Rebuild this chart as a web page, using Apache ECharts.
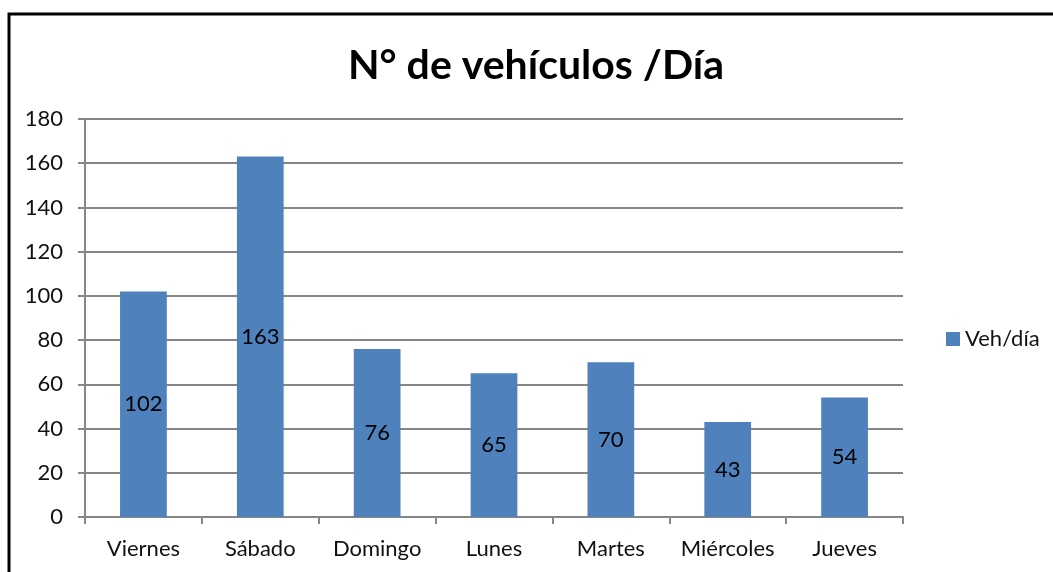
<!DOCTYPE html>
<html>
<head>
<meta charset="utf-8">
<script src="https://cdn.jsdelivr.net/npm/echarts@6/dist/echarts.min.js"></script>
<style>
  html, body { margin: 0; padding: 0; background: #fff; }
  #chart { width: 1053px; height: 572px; }
</style>
</head>
<body>
<div id="chart"></div>
<script>
// datos
var dias = ['Viernes', 'Sábado', 'Domingo', 'Lunes', 'Martes', 'Miércoles', 'Jueves'];
var vehiculos = [102, 163, 76, 65, 70, 43, 54];
var serieNombre = 'Veh/día';
var titulo = 'N° de vehículos /Día';

var chart = echarts.init(document.getElementById('chart'));
var fuente = 'Lato, "Open Sans", sans-serif';

var option = {
    backgroundColor: '#fff',
    animation: false,
    title: {
        text: titulo,
        left: 531,
        top: 40,
        textAlign: 'center',
        textStyle: { fontFamily: fuente, fontSize: 41, fontWeight: 'bold', color: '#000' }
    },
    legend: {
        data: [serieNombre],
        left: 941,
        top: 323,
        itemWidth: 14,
        itemHeight: 14,
        itemGap: 6,
        icon: 'rect',
        textStyle: { fontFamily: fuente, fontSize: 22, color: '#111' }
    },
    grid: { left: 85, right: 150, top: 119, bottom: 55 },
    xAxis: {
        type: 'category',
        data: dias,
        axisLine: { lineStyle: { color: '#868686', width: 2 } },
        axisTick: { show: true, interval: 0, alignWithLabel: false, length: 7, lineStyle: { color: '#868686', width: 2 } },
        axisLabel: { interval: 0, fontFamily: fuente, fontSize: 22, color: '#111', margin: 21 }
    },
    yAxis: {
        type: 'value',
        min: 0,
        max: 180,
        interval: 20,
        axisLine: { show: true, lineStyle: { color: '#868686', width: 2 } },
        axisTick: { show: true, length: 7, inside: false, lineStyle: { color: '#868686', width: 2 } },
        axisLabel: { fontFamily: fuente, fontSize: 22, color: '#111', margin: 22 },
        splitLine: { lineStyle: { color: '#868686', width: 2 } }
    },
    series: [{
        name: serieNombre,
        type: 'bar',
        data: vehiculos,
        barWidth: '40%',
        itemStyle: { color: '#4F81BD' },
        label: {
            show: true,
            position: 'inside',
            fontFamily: fuente,
            fontSize: 22,
            color: '#000'
        }
    }],
    graphic: [{
        type: 'rect',
        shape: { x: 9, y: 14, width: 1100, height: 600 },
        style: { fill: 'none', stroke: '#000', lineWidth: 3 },
        silent: true
    }]
};
chart.setOption(option);
</script>
</body>
</html>
